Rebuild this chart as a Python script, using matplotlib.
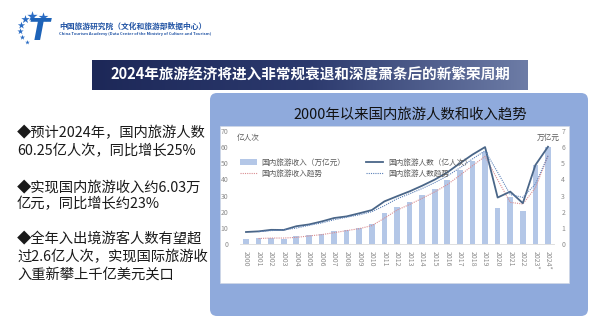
import numpy as np
import matplotlib
matplotlib.use("Agg")
import matplotlib.pyplot as plt
from matplotlib.patches import Rectangle, FancyBboxPatch
from matplotlib.colors import LinearSegmentedColormap

plt.rcParams['font.family'] = ['Noto Sans CJK SC', 'DejaVu Sans']

# data
years = ["2000", "2001", "2002", "2003", "2004", "2005", "2006", "2007", "2008",
         "2009", "2010", "2011", "2012", "2013", "2014", "2015", "2016", "2017",
         "2018", "2019", "2020", "2021", "2022", "2023*", "2024*"]
income = [0.32, 0.35, 0.39, 0.34, 0.47, 0.53, 0.62, 0.78, 0.87, 1.02, 1.26, 1.93,
          2.27, 2.63, 3.03, 3.42, 3.94, 4.57, 5.13, 5.73, 2.23, 2.92, 2.04, 4.91, 6.03]
visitors = [7.44, 7.84, 8.78, 8.70, 11.02, 12.12, 13.94, 16.10, 17.12, 19.02, 21.03,
            26.41, 29.57, 32.62, 36.11, 39.90, 44.40, 50.01, 55.39, 60.06, 28.79,
            32.46, 25.30, 48.91, 60.25]
# trend lines start at 2001
income_trend = [0.34, 0.37, 0.37, 0.41, 0.50, 0.58, 0.70, 0.83, 0.95, 1.14, 1.60,
                2.10, 2.45, 2.83, 3.23, 3.68, 4.26, 4.85, 5.43, 3.98, 2.58, 2.48,
                3.48, 5.47]
visitors_trend = [7.64, 8.31, 8.74, 9.86, 11.57, 13.03, 15.02, 16.61, 18.07, 20.03,
                  23.72, 27.99, 31.10, 34.37, 38.01, 42.15, 47.21, 52.70, 57.73,
                  44.43, 30.63, 28.88, 37.11, 54.58]

bullets = [
    ("◆预计2024年，国内旅游人数", 133),
    ("60.25亿人次，同比增长25%", 151),
    ("◆实现国内旅游收入约6.03万", 187),
    ("亿元，同比增长约23%", 204),
    ("◆全年入出境游客人数有望超", 238),
    ("过2.6亿人次，实现国际旅游收", 257),
    ("入重新攀上千亿美元关口", 275),
]

fig = plt.figure(figsize=(6, 3.26), dpi=100)
fig.patch.set_facecolor("white")

# background layer in pixel coordinates
bg = fig.add_axes([0, 0, 1, 1])
bg.axis("off")

# logo
stars = [(32, 16, 60), (43, 17, 55), (25, 19, 40), (21, 25, 30), (20, 31, 22), (22, 37, 16), (27, 42, 12)]
for sx, sy, ss in stars:
    bg.scatter(sx, sy, marker="*", s=ss, color="#2a6cc4", linewidths=0, zorder=3)
bg.text(39, 32, "T", fontsize=22, fontweight="bold", style="italic", color="#1d63b8",
        ha="center", va="center", family="DejaVu Sans", zorder=3)
bg.text(59, 26, "中国旅游研究院（文化和旅游部数据中心）", fontsize=5.6, fontweight="bold",
        color="#2355a5", ha="left", va="center")
bg.text(59, 34, "China Tourism Academy (Data Center of the Ministry of Culture and Tourism)",
        fontsize=2.9, fontweight="bold", color="#2355a5", ha="left", va="center")

# banner with gradient
cmap = LinearSegmentedColormap.from_list("banner", ["#1d2858", "#2c3a6e", "#6d7ca6"])
bg.imshow(np.linspace(0, 1, 256).reshape(1, -1), cmap=cmap, extent=(92, 528, 90, 60),
          aspect="auto", zorder=1)
bg.text(310, 75, "2024年旅游经济将进入非常规衰退和深度萧条后的新繁荣周期", fontsize=10.5,
        fontweight="bold", color="white", ha="center", va="center", zorder=2)

# blue panel and white chart area
bg.add_patch(FancyBboxPatch((210, 93), 378, 223, boxstyle="round,pad=0,rounding_size=7",
                            facecolor="#8faadc", edgecolor="none", zorder=1))
bg.add_patch(Rectangle((220, 126), 349, 157, facecolor="white", edgecolor="#d0d7e5",
                       linewidth=0.5, zorder=2))
bg.text(410, 115, "2000年以来国内旅游人数和收入趋势", fontsize=10.4, color="#111111",
        ha="center", va="center", zorder=3)
bg.text(237, 138, "亿人次", fontsize=5.5, color="#595959", ha="left", va="center", zorder=3)
bg.text(560, 138, "万亿元", fontsize=5.5, color="#595959", ha="right", va="center", zorder=3)

# left text
for txt, yy in bullets:
    bg.text(17, yy, txt, fontsize=10.3, color="#1a1a1a", ha="left", va="center")

bg.set_xlim(0, 600)
bg.set_ylim(326, 0)

# chart axes
x = np.arange(len(years))
ax = fig.add_axes([0.3995, 0.2515, 0.5243, 0.3466])
ax2 = ax.twinx()
ax.set_zorder(ax2.get_zorder() + 1)
ax.patch.set_visible(False)
ax2.patch.set_visible(False)

b = ax2.bar(x, income, width=0.45, color="#b4c7e7", label="国内旅游收入（万亿元）")
t1, = ax2.plot(x[1:], income_trend, color="#d98c90", linestyle=(0, (1, 1)), linewidth=0.8,
               label="国内旅游收入趋势")
l1, = ax.plot(x, visitors, color="#4a6688", linewidth=1.3, label="国内旅游人数（亿人次）")
t2, = ax.plot(x[1:], visitors_trend, color="#5b80b8", linestyle=(0, (1, 1)), linewidth=0.8,
              label="国内旅游人数趋势")

ax.set_xlim(-0.5, len(years) - 0.5)
ax.set_ylim(0, 70)
ax2.set_ylim(0, 7)
ax.set_yticks(range(0, 71, 10))
ax2.set_yticks(range(0, 8))
ax.set_xticks(x)
ax.set_xticklabels(years, rotation=270, ha="center", va="top")
for a in (ax, ax2):
    for s in a.spines.values():
        s.set_visible(False)
    a.tick_params(length=0, labelsize=5, labelcolor="#8c8c8c")
ax.tick_params(axis="y", pad=8)
ax2.tick_params(axis="y", pad=5)
ax.tick_params(axis="x", pad=5)
ax.spines["bottom"].set_visible(True)
ax.spines["bottom"].set_color("#d9d9d9")
ax.spines["bottom"].set_linewidth(0.6)

leg = ax.legend([b, t1, l1, t2], [h.get_label() for h in (b, t1, l1, t2)], ncol=2,
                loc="upper left", bbox_to_anchor=(236, 155), bbox_transform=bg.transData,
                frameon=False, fontsize=5.5, handlelength=2.2, columnspacing=2.8,
                labelspacing=0.35, borderpad=0, handletextpad=0.6)
for txt in leg.get_texts():
    txt.set_color("#595959")

fig.savefig("out.png", dpi=100)
